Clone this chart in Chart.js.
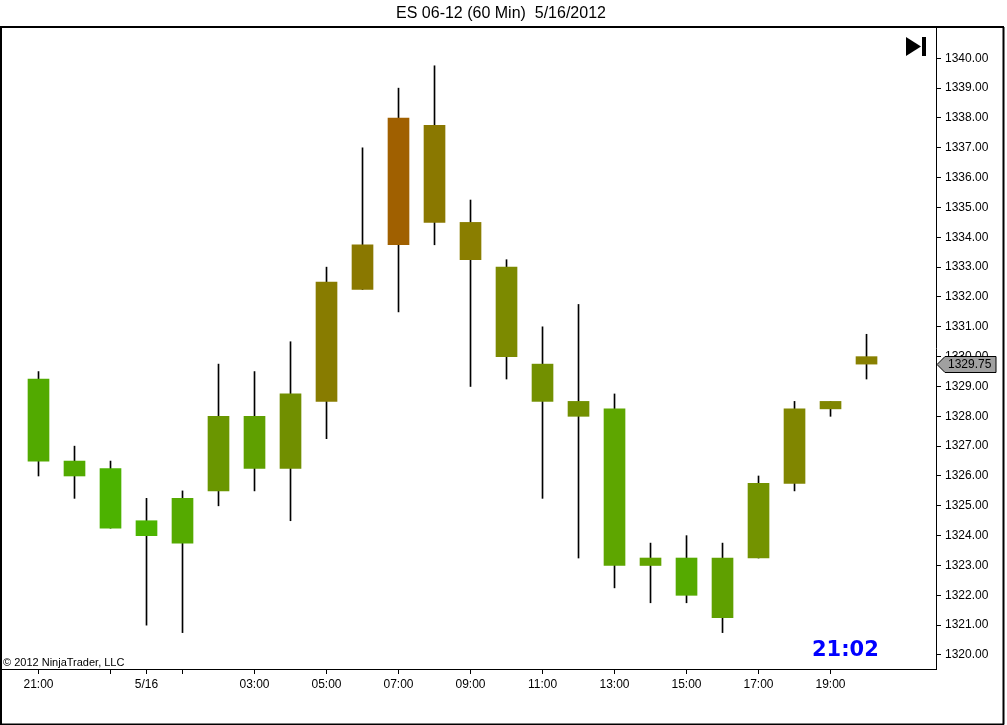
<!DOCTYPE html>
<html>
<head>
<meta charset="utf-8">
<script src="https://cdn.jsdelivr.net/npm/chart.js@4/dist/chart.umd.min.js"></script>
<style>
  html, body { margin: 0; padding: 0; background: #ffffff; }
  #wrap { width: 1007px; height: 725px; }
</style>
</head>
<body>
<div id="wrap"><canvas id="c" width="1007" height="725"></canvas></div>
<script>
// ---- data ----
const chartTitle = 'ES 06-12 (60 Min)  5/16/2012';
const categories = ['21:00','22:00','23:00','00:00','01:00','02:00','03:00','04:00','05:00','06:00','07:00','08:00',
                    '09:00','10:00','11:00','12:00','13:00','14:00','15:00','16:00','17:00','18:00','19:00','20:00'];
const opens  = [1329.25,1326.5,1326.25,1324.5,1323.75,1325.5,1328,1326.25,1328.5,1332.25,1333.75,1337.75,
                1334.5,1333,1329.75,1328.5,1328.25,1323,1323.25,1321.25,1323.25,1325.75,1328.25,1330];
const highs  = [1329.5,1327,1326.5,1325.25,1325.5,1329.75,1329.5,1330.5,1333,1337,1339,1339.75,
                1335.25,1333.25,1331,1331.75,1328.75,1323.75,1324,1323.75,1326,1328.5,1328.5,1330.75];
const lows   = [1326,1325.25,1324.25,1321,1320.75,1325,1325.5,1324.5,1327.25,1332.25,1331.5,1333.75,
                1329,1329.25,1325.25,1323.25,1322.25,1321.75,1321.75,1320.75,1323.25,1325.5,1328,1329.25];
const closes = [1326.5,1326,1324.25,1324,1325.25,1328,1326.25,1328.75,1332.5,1333.75,1338,1334.5,
                1333.25,1330,1328.5,1328,1323,1323.25,1322,1323.25,1325.75,1328.25,1328.5,1329.75];
const barColors = ['#52AA00','#52AA00','#4CB200','#4CB400','#55AA00','#6A9600','#5FA000','#718F00',
                   '#887C00','#8A7800','#A06000','#8A7800','#8A7E00','#7C8A00','#729000','#729000',
                   '#5EA600','#62A400','#55AA00','#5FA000','#739300','#808600','#808600','#888000'];
const xTickPositions = [0, 2, 3, 4, 6, 8, 10, 12, 14, 16, 18, 20, 22];
const xTickLabels    = ['21:00', '', '5/16', '', '03:00', '05:00', '07:00', '09:00', '11:00', '13:00', '15:00', '17:00', '19:00'];
const yTickValues = [1320,1321,1322,1323,1324,1325,1326,1327,1328,1329,1330,1331,1332,1333,1334,1335,1336,1337,1338,1339,1340];
const sessionClock = '21:02';
const copyrightText = '© 2012 NinjaTrader, LLC';

// ---- build ----
const bodyData = categories.map((c, i) => ({ x: i, y: [opens[i], closes[i]] }));
const wickData = categories.map((c, i) => ({ x: i, y: [lows[i], highs[i]] }));

const decorPlugin = {
  id: 'decor',
  afterDraw(chart) {
    const ctx = chart.ctx;
    const ys = chart.scales.y;
    ctx.save();
    // title
    ctx.fillStyle = '#000';
    ctx.font = '16px "Liberation Sans", Arial, sans-serif';
    ctx.textAlign = 'center';
    ctx.textBaseline = 'middle';
    ctx.fillText(chartTitle, 501, 14);
    // outer frame
    ctx.strokeStyle = '#000';
    ctx.lineWidth = 2;
    ctx.beginPath();
    ctx.moveTo(0, 27); ctx.lineTo(1004, 27);
    ctx.moveTo(1, 27); ctx.lineTo(1, 725);
    ctx.moveTo(1003.5, 27); ctx.lineTo(1003.5, 724.5);
    ctx.moveTo(0, 724.5); ctx.lineTo(1004, 724.5);
    ctx.stroke();
    // play-to-end icon
    ctx.fillStyle = '#000';
    ctx.beginPath();
    ctx.moveTo(906, 37); ctx.lineTo(921, 46.5); ctx.lineTo(906, 56); ctx.closePath();
    ctx.fill();
    ctx.fillRect(922, 37, 4, 19);
    // copyright
    ctx.font = '11px "Liberation Sans", Arial, sans-serif';
    ctx.textAlign = 'left';
    ctx.textBaseline = 'middle';
    ctx.fillStyle = '#000';
    ctx.fillText(copyrightText, 3, 663);
    // clock
    ctx.font = 'bold 21px "DejaVu Sans", Verdana, sans-serif';
    ctx.fillStyle = '#0000FF';
    ctx.textAlign = 'left';
    ctx.textBaseline = 'alphabetic';
    ctx.fillText(sessionClock, 812, 656);
    // last price tag
    const last = closes[closes.length - 1];
    const py = Math.round(ys.getPixelForValue(last)) + 0.5;
    ctx.beginPath();
    ctx.moveTo(937, py);
    ctx.lineTo(945, py - 8);
    ctx.lineTo(996, py - 8);
    ctx.lineTo(996, py + 8);
    ctx.lineTo(945, py + 8);
    ctx.closePath();
    ctx.fillStyle = '#A0A0A0';
    ctx.fill();
    ctx.lineWidth = 1;
    ctx.strokeStyle = '#000';
    ctx.stroke();
    ctx.fillStyle = '#000';
    ctx.font = '12px "Liberation Sans", Arial, sans-serif';
    ctx.textBaseline = 'middle';
    ctx.fillText(last.toFixed(2), 948, py);
    ctx.restore();
  }
};

new Chart(document.getElementById('c'), {
  type: 'bar',
  data: {
    datasets: [
      {
        label: 'body',
        data: bodyData,
        backgroundColor: barColors,
        borderWidth: 0,
        borderSkipped: false,
        barThickness: 21,
        grouped: false,
        order: 0
      },
      {
        label: 'wick',
        data: wickData,
        backgroundColor: '#000000',
        borderWidth: 0,
        borderSkipped: false,
        barThickness: 1,
        grouped: false,
        order: 1
      }
    ]
  },
  options: {
    responsive: false,
    animation: false,
    devicePixelRatio: 1,
    layout: { padding: { top: 27, left: 1, right: 0, bottom: 0 } },
    plugins: {
      legend: { display: false },
      tooltip: { enabled: false },
      title: { display: false }
    },
    scales: {
      x: {
        type: 'linear',
        min: -1.0417,
        max: 24.93,
        offset: false,
        afterBuildTicks(scale) {
          scale.ticks = xTickPositions.map(v => ({ value: v }));
        },
        afterFit(scale) { scale.height = 56; },
        ticks: {
          autoSkip: false,
          maxRotation: 0,
          padding: 3,
          color: '#000',
          font: { family: '"Liberation Sans", Arial, sans-serif', size: 12 },
          callback: (v, idx) => xTickLabels[idx]
        },
        grid: {
          offset: false,
          drawOnChartArea: false,
          drawTicks: true,
          tickLength: 5,
          tickColor: '#000',
          tickWidth: 1
        },
        border: { display: true, color: '#000', width: 1 }
      },
      y: {
        type: 'linear',
        position: 'right',
        min: 1319.53,
        max: 1341.05,
        afterBuildTicks(scale) {
          scale.ticks = yTickValues.map(v => ({ value: v }));
        },
        afterFit(scale) { scale.width = 71; },
        ticks: {
          padding: 4,
          color: '#000',
          font: { family: '"Liberation Sans", Arial, sans-serif', size: 12 },
          callback: v => Number(v).toFixed(2)
        },
        grid: {
          offset: false,
          drawOnChartArea: false,
          drawTicks: true,
          tickLength: 5,
          tickColor: '#000',
          tickWidth: 1
        },
        border: { display: true, color: '#000', width: 1 }
      }
    }
  },
  plugins: [decorPlugin]
});
</script>
</body>
</html>
